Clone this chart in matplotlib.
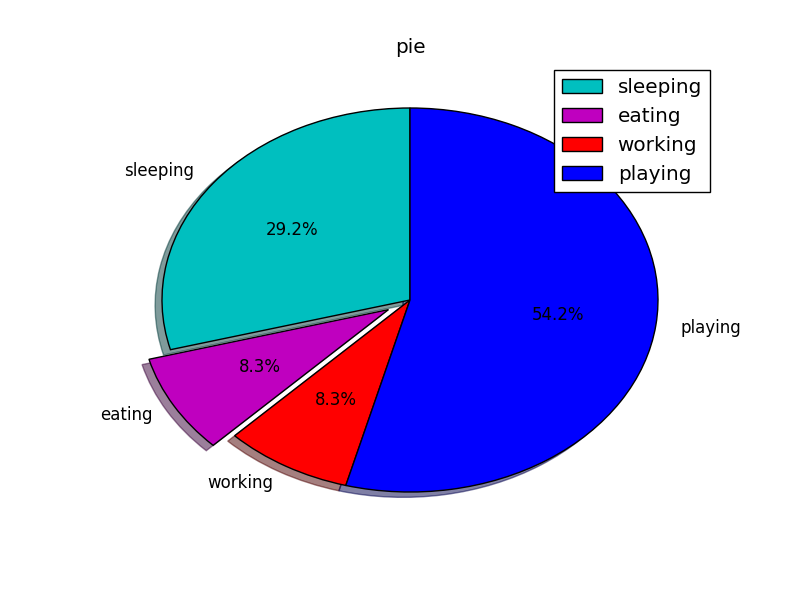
import matplotlib
matplotlib.use('Agg')
import matplotlib.pyplot as plt

labels = ['sleeping', 'eating', 'working', 'playing']
sizes = [7, 2, 2, 13]
colors = ['c', 'm', 'r', 'b']
explode = [0, 0.1, 0, 0]

plt.style.use('classic')
fig = plt.figure(figsize=(8, 6), dpi=100)
ax = fig.add_subplot(111)

ax.pie(sizes, explode=explode, labels=labels, colors=colors,
       autopct='%1.1f%%', shadow=True, startangle=90)
ax.set_aspect('auto')
ax.set_xlim(-1.25, 1.25)
ax.set_ylim(-1.25, 1.25)
ax.set_title('pie')
ax.legend(loc='upper right')

fig.savefig('out.png', dpi=100)
